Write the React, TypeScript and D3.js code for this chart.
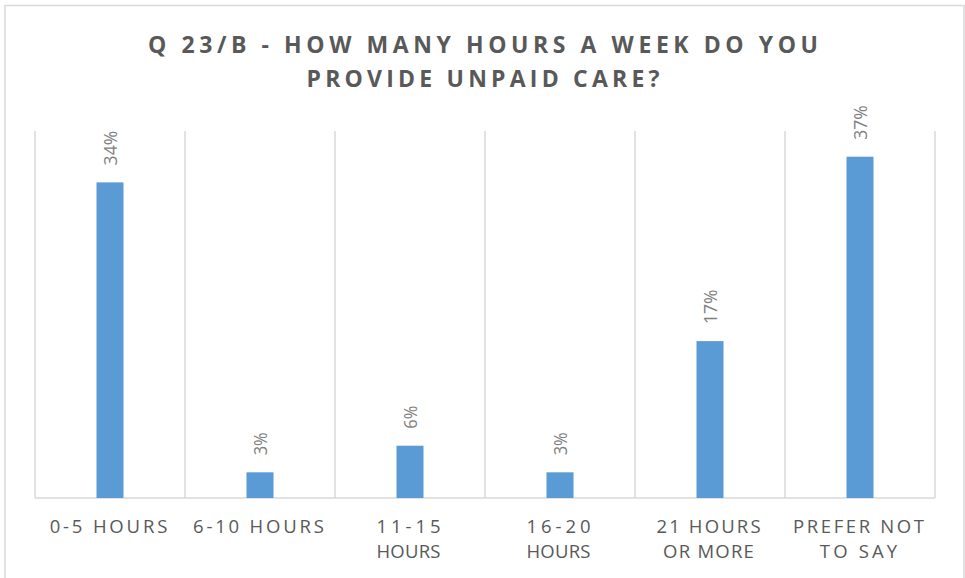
import React from "react";
import * as d3 from "d3";

const WIDTH = 965;
const HEIGHT = 578;
const PLOT = { LEFT: 35, RIGHT: 935, TOP: 131, BOTTOM: 498 };

// chart values
const categories = ["0-5 HOURS", "6-10 HOURS", "11-15 HOURS", "16-20 HOURS", "21 HOURS OR MORE", "PREFER NOT TO SAY"];
const categoryLines = [["0-5 HOURS"], ["6-10 HOURS"], ["11-15", "HOURS"], ["16-20", "HOURS"], ["21 HOURS", "OR MORE"], ["PREFER NOT", "TO SAY"]];
const shares = [0.344, 0.028, 0.057, 0.028, 0.171, 0.372];
const titleLines = ["Q 23/B - HOW MANY HOURS A WEEK DO YOU", "PROVIDE UNPAID CARE?"];

const BAR_COLOR = "#5b9bd5";
const GRID = "#d9d9d9";
const TEXT = "#595959";

// rough widths measured on the reference, used to keep letter spacing close
const titleWidths = [670, 353];
const labelWidth = (s: string) => s.length * 13.4 - 3;

const App: React.FC = () => {
  const x = d3.scaleBand<string>().domain(categories).range([PLOT.LEFT, PLOT.RIGHT]).paddingInner(0).paddingOuter(0);
  const y = d3.scaleLinear().domain([0, 0.4]).range([PLOT.BOTTOM, PLOT.TOP]);
  const barW = 27;
  const pct = d3.format(".0%");
  const edges = [...categories.map((c) => x(c)!), PLOT.RIGHT];

  return (
    <div style={{ position: "absolute", left: 0, top: 0 }}>
      <svg width={WIDTH} height={HEIGHT} style={{ display: "block", background: "#fff" }}>
        <rect x={5} y={5.5} width={959} height={HEIGHT} fill="#fff" stroke={GRID} strokeWidth={1.5} />

        <g fontFamily="'Open Sans', sans-serif" fontWeight={700} fontSize={23} fill={TEXT}>
          {titleLines.map((t, i) => (
            <text
              key={t}
              x={483 - titleWidths[i] / 2}
              y={53 + i * 34}
              textLength={titleWidths[i]}
              lengthAdjust="spacing"
            >
              {t}
            </text>
          ))}
        </g>

        {edges.map((e, i) => (
          <line key={i} x1={e} x2={e} y1={PLOT.TOP} y2={PLOT.BOTTOM} stroke={GRID} strokeWidth={1.5} />
        ))}
        <line x1={PLOT.LEFT} x2={PLOT.RIGHT} y1={PLOT.BOTTOM} y2={PLOT.BOTTOM} stroke={GRID} strokeWidth={1.5} />

        {categories.map((c, i) => {
          const cx = x(c)! + x.bandwidth() / 2;
          const top = y(shares[i]);
          const label = pct(shares[i]);
          return (
            <g key={c}>
              <rect x={cx - barW / 2} y={top} width={barW} height={PLOT.BOTTOM - top} fill={BAR_COLOR} />
              <text
                transform={`translate(${cx + 6.5},${top - 17}) rotate(-90)`}
                fontFamily="'Open Sans', sans-serif"
                fontSize={18}
                fill="#7f7f7f"
                textLength={label.length * 11.5}
                lengthAdjust="spacingAndGlyphs"
              >
                {label}
              </text>
            </g>
          );
        })}

        <g fontFamily="'Open Sans', sans-serif" fontSize={18.5} fill={TEXT}>
          {categories.map((c, i) => {
            const cx = x(c)! + x.bandwidth() / 2 - 1.5;
            return categoryLines[i].map((line, j) => {
              const w = labelWidth(line);
              return (
                <text
                  key={c + j}
                  x={cx - w / 2}
                  y={533 + j * 25}
                  textLength={w}
                  lengthAdjust="spacing"
                >
                  {line}
                </text>
              );
            });
          })}
        </g>
      </svg>
    </div>
  );
};

export default App;
